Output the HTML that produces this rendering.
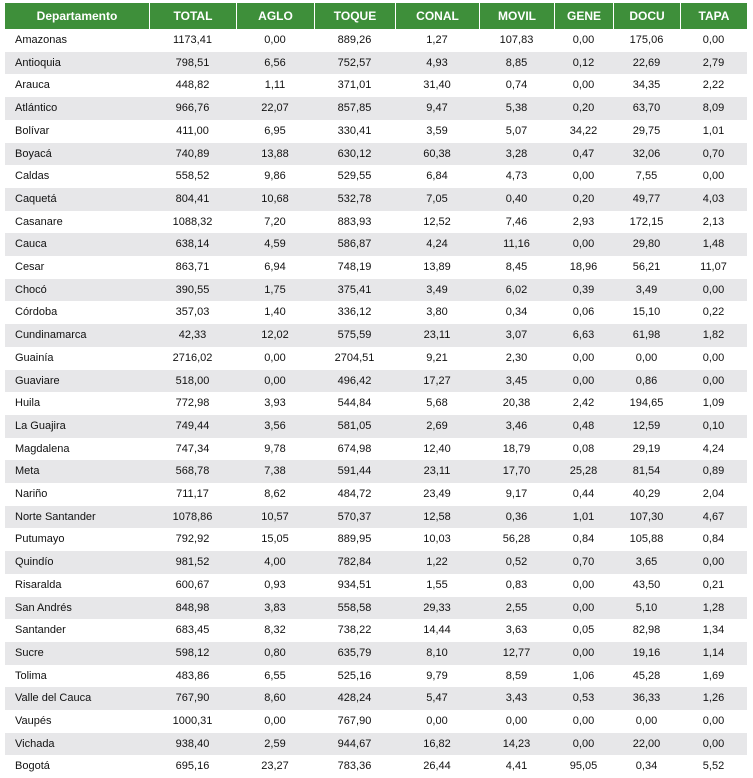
<!DOCTYPE html>
<html><head><meta charset="utf-8"><style>
body{margin:0;width:753px;height:778px;background:#fff;font-family:"Liberation Sans",sans-serif;overflow:hidden;position:relative}
.row{position:absolute;left:5px;width:742px;height:22.7px}
.hdr{position:absolute;left:5px;top:3px;width:742px;height:26px}
.hc{position:absolute;top:0;height:26px;background:#3e8f3a;color:#fff;font-weight:bold;font-size:12px;line-height:26px;text-align:center}
.c{position:absolute;top:0;height:22.7px;line-height:22.7px;font-size:11px;color:#111;text-align:center}
.gray{background:#e7e7e9}
</style></head><body>
<div class="hdr" id="hdr"></div>
<div id="body"></div>
<script>
const headers=["Departamento","TOTAL","AGLO","TOQUE","CONAL","MOVIL","GENE","DOCU","TAPA"];
const rows=[
["Amazonas","1173,41","0,00","889,26","1,27","107,83","0,00","175,06","0,00"],
["Antioquia","798,51","6,56","752,57","4,93","8,85","0,12","22,69","2,79"],
["Arauca","448,82","1,11","371,01","31,40","0,74","0,00","34,35","2,22"],
["Atlántico","966,76","22,07","857,85","9,47","5,38","0,20","63,70","8,09"],
["Bolívar","411,00","6,95","330,41","3,59","5,07","34,22","29,75","1,01"],
["Boyacá","740,89","13,88","630,12","60,38","3,28","0,47","32,06","0,70"],
["Caldas","558,52","9,86","529,55","6,84","4,73","0,00","7,55","0,00"],
["Caquetá","804,41","10,68","532,78","7,05","0,40","0,20","49,77","4,03"],
["Casanare","1088,32","7,20","883,93","12,52","7,46","2,93","172,15","2,13"],
["Cauca","638,14","4,59","586,87","4,24","11,16","0,00","29,80","1,48"],
["Cesar","863,71","6,94","748,19","13,89","8,45","18,96","56,21","11,07"],
["Chocó","390,55","1,75","375,41","3,49","6,02","0,39","3,49","0,00"],
["Córdoba","357,03","1,40","336,12","3,80","0,34","0,06","15,10","0,22"],
["Cundinamarca","42,33","12,02","575,59","23,11","3,07","6,63","61,98","1,82"],
["Guainía","2716,02","0,00","2704,51","9,21","2,30","0,00","0,00","0,00"],
["Guaviare","518,00","0,00","496,42","17,27","3,45","0,00","0,86","0,00"],
["Huila","772,98","3,93","544,84","5,68","20,38","2,42","194,65","1,09"],
["La Guajira","749,44","3,56","581,05","2,69","3,46","0,48","12,59","0,10"],
["Magdalena","747,34","9,78","674,98","12,40","18,79","0,08","29,19","4,24"],
["Meta","568,78","7,38","591,44","23,11","17,70","25,28","81,54","0,89"],
["Nariño","711,17","8,62","484,72","23,49","9,17","0,44","40,29","2,04"],
["Norte Santander","1078,86","10,57","570,37","12,58","0,36","1,01","107,30","4,67"],
["Putumayo","792,92","15,05","889,95","10,03","56,28","0,84","105,88","0,84"],
["Quindío","981,52","4,00","782,84","1,22","0,52","0,70","3,65","0,00"],
["Risaralda","600,67","0,93","934,51","1,55","0,83","0,00","43,50","0,21"],
["San Andrés","848,98","3,83","558,58","29,33","2,55","0,00","5,10","1,28"],
["Santander","683,45","8,32","738,22","14,44","3,63","0,05","82,98","1,34"],
["Sucre","598,12","0,80","635,79","8,10","12,77","0,00","19,16","1,14"],
["Tolima","483,86","6,55","525,16","9,79","8,59","1,06","45,28","1,69"],
["Valle del Cauca","767,90","8,60","428,24","5,47","3,43","0,53","36,33","1,26"],
["Vaupés","1000,31","0,00","767,90","0,00","0,00","0,00","0,00","0,00"],
["Vichada","938,40","2,59","944,67","16,82","14,23","0,00","22,00","0,00"],
["Bogotá","695,16","23,27","783,36","26,44","4,41","95,05","0,34","5,52"]];
const edges=[0,144,231,309,390,474,549,608,675,742];
const hdr=document.getElementById('hdr');
headers.forEach((h,i)=>{const d=document.createElement('div');


d.className='hc';d.style.left=(edges[i]+(i?1:0))+'px';d.style.width=(edges[i+1]-edges[i]-(i?1:0))+'px';d.textContent=h;hdr.appendChild(d);});
const body=document.getElementById('body');
rows.forEach((r,ri)=>{const row=document.createElement('div');


row.className='row'+(ri%2?' gray':'');row.style.top=(29+ri*22.7)+'px';
r.forEach((v,i)=>{const c=document.createElement('div');


c.className='c';
if(i==0){c.style.left='10px';c.style.width='134px';c.style.textAlign='left';}
else{c.style.left=edges[i]+'px';c.style.width=(edges[i+1]-edges[i])+'px';}
c.textContent=v;row.appendChild(c);});
body.appendChild(row);});
</script>
</body></html>
